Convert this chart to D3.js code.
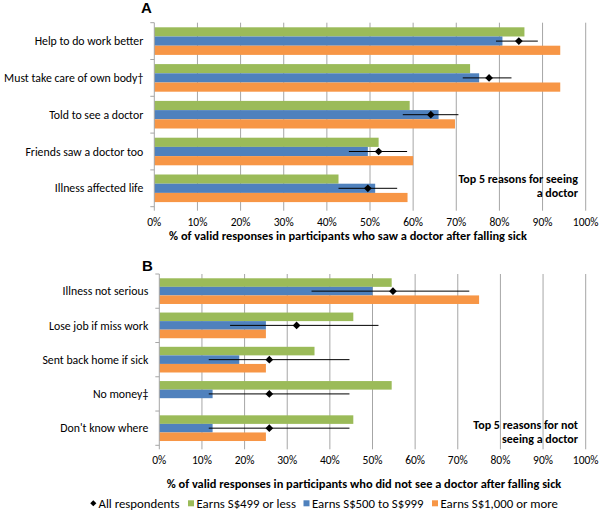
<!DOCTYPE html>
<html><head><meta charset="utf-8">
<script src="https://cdn.jsdelivr.net/npm/d3@7"></script>
<style>
body{margin:0;background:#fff;}
text{font-family:Carlito,Lato,"Open Sans",sans-serif;fill:#000;}
</style></head>
<body><svg id="c" width="600" height="511"></svg>
<script>
const catsA = ["Help to do work better","Must take care of own body\u2020","Told to see a doctor","Friends saw a doctor too","Illness affected life"];
const lowA  = [85.8, 73.2, 59.2, 52.0, 42.7];
const midA  = [80.7, 75.3, 65.9, 49.5, 51.2];
const highA = [94.1, 94.1, 69.7, 60.0, 58.7];
const allA  = [84.5, 77.6, 64.1, 52.0, 49.5];
const allALo = [79.2, 71.5, 57.6, 45.1, 42.7];
const allAHi = [88.9, 82.8, 70.5, 58.6, 56.3];

const catsB = ["Illness not serious","Lose job if miss work","Sent back home if sick","No money\u2021","Don't know where"];
const lowB  = [54.5, 45.5, 36.4, 54.5, 45.5];
const midB  = [50.0, 25.0, 18.75, 12.5, 12.5];
const highB = [75.0, 25.0, 25.0, 0, 25.0];
const allB  = [54.8, 32.2, 25.8, 25.8, 25.8];
const allBLo = [35.7, 16.6, 11.6, 11.6, 11.6];
const allBHi = [72.7, 51.4, 44.6, 44.6, 44.6];

const ticks = [0,10,20,30,40,50,60,70,80,90,100];
const seriesNames = ["Earns S$499 or less","Earns S$500 to S$999","Earns S$1,000 or more"];
const colors = ["#9BBB59","#4F81BD","#F79646"];

const svg = d3.select("#c");

function panel(o){
  const g = svg.append("g");
  const x = d3.scaleLinear().domain([0,100]).range([o.x0,o.x1]);
  const y = d3.scaleBand().domain(o.cats).range([o.y0,o.y1]).paddingInner(0.25).paddingOuter(0.125);
  const inner = d3.scaleBand().domain([0,1,2]).range([0,y.bandwidth()]);
  g.selectAll(".grid").data(ticks.slice(1)).join("line")
    .attr("x1",d=>x(d)).attr("x2",d=>x(d)).attr("y1",o.y0).attr("y2",o.y1+4)
    .attr("stroke","#a6a6a6").attr("stroke-width",1);
  const series=[o.low,o.mid,o.high];
  series.forEach((vals,si)=>{
    g.selectAll(".b"+si).data(vals).join("rect")
      .attr("x",x(0)).attr("y",(d,i)=>y(o.cats[i])+inner(si))
      .attr("width",d=>x(d)-x(0)).attr("height",inner.bandwidth())
      .attr("fill",colors[si]);
  });
  const step = (o.y1-o.y0)/o.cats.length;
  g.append("line").attr("x1",x(0)).attr("x2",x(0)).attr("y1",o.y0).attr("y2",o.y1+4).attr("stroke","#a6a6a6");
  g.selectAll(".yt").data(d3.range(o.cats.length+1)).join("line")
    .attr("x1",x(0)-4).attr("x2",x(0)).attr("y1",d=>o.y0+d*step).attr("y2",d=>o.y0+d*step).attr("stroke","#a6a6a6");
  g.selectAll(".yl").data(o.cats).join("text")
    .attr("x",x(0)-11).attr("y",d=>y(d)+y.bandwidth()/2).attr("dy","0.35em")
    .attr("text-anchor","end").attr("font-size","11.8px").text(d=>d);
  g.selectAll(".xl").data(ticks).join("text")
    .attr("x",d=>x(d)).attr("y",o.y1+15).attr("dy","0.35em").attr("text-anchor","middle").attr("font-size","11.5px").text(d=>d+"%");
  g.append("text").attr("x",o.titleX).attr("y",o.titleY).attr("dy","0.35em").attr("text-anchor","middle")
    .attr("font-size","12.4px").attr("font-weight","bold").text(o.xtitle);
  g.selectAll(".err").data(o.all).join("line")
    .attr("x1",(d,i)=>x(o.lo[i])).attr("x2",(d,i)=>x(o.hi[i]))
    .attr("y1",(d,i)=>y(o.cats[i])+inner(1)+inner.bandwidth()/2)
    .attr("y2",(d,i)=>y(o.cats[i])+inner(1)+inner.bandwidth()/2)
    .attr("stroke","#000").attr("stroke-width",1);
  g.selectAll(".dia").data(o.all).join("path")
    .attr("d",d3.symbol(d3.symbolDiamond2,38))
    .attr("transform",(d,i)=>`translate(${x(d)},${y(o.cats[i])+inner(1)+inner.bandwidth()/2})`)
    .attr("fill","#000");
  g.append("text").attr("x",o.letterX).attr("y",o.letterY)
    .attr("font-size","15px").attr("font-weight","bold").style("font-family","'Liberation Sans',Arial,sans-serif").text(o.letter);
  const t = g.append("text").attr("text-anchor","end").attr("font-size","12px").attr("font-weight","bold");
  o.note.forEach((s,i)=>t.append("tspan").attr("x",578).attr("y",o.noteY+i*14).text(s));
}

panel({cats:catsA,low:lowA,mid:midA,high:highA,all:allA,lo:allALo,hi:allAHi,
  x0:154.3,x1:585.7,y0:22.7,y1:206.7,titleX:348,titleY:236,
  xtitle:"% of valid responses in participants who saw a doctor after falling sick",
  letter:"A",letterX:141,letterY:13,note:["Top 5 reasons for seeing","a doctor"],noteY:183});
panel({cats:catsB,low:lowB,mid:midB,high:highB,all:allB,lo:allBLo,hi:allBHi,
  x0:159.3,x1:585.7,y0:274,y1:445.3,titleX:364,titleY:483.3,
  xtitle:"% of valid responses in participants who did not see a doctor after falling sick",
  letter:"B",letterX:142,letterY:271,note:["Top 5 reasons for not","seeing a doctor"],noteY:429});

const lg = svg.append("g");
const ly = 503.3;
lg.append("path").attr("d",d3.symbol(d3.symbolDiamond2,24)).attr("transform",`translate(93.3,${ly})`).attr("fill","#000");
lg.append("text").attr("x",98.5).attr("y",ly).attr("dy","0.35em").attr("font-size","12.8px").text("All respondents");
const lx=[191,306.5,435];
seriesNames.forEach((s,i)=>{
  lg.append("rect").attr("x",lx[i]-3).attr("y",ly-3).attr("width",6).attr("height",6).attr("fill",colors[i]);
  lg.append("text").attr("x",lx[i]+5.5).attr("y",ly).attr("dy","0.35em").attr("font-size","12.8px").text(s);
});
</script></body></html>
